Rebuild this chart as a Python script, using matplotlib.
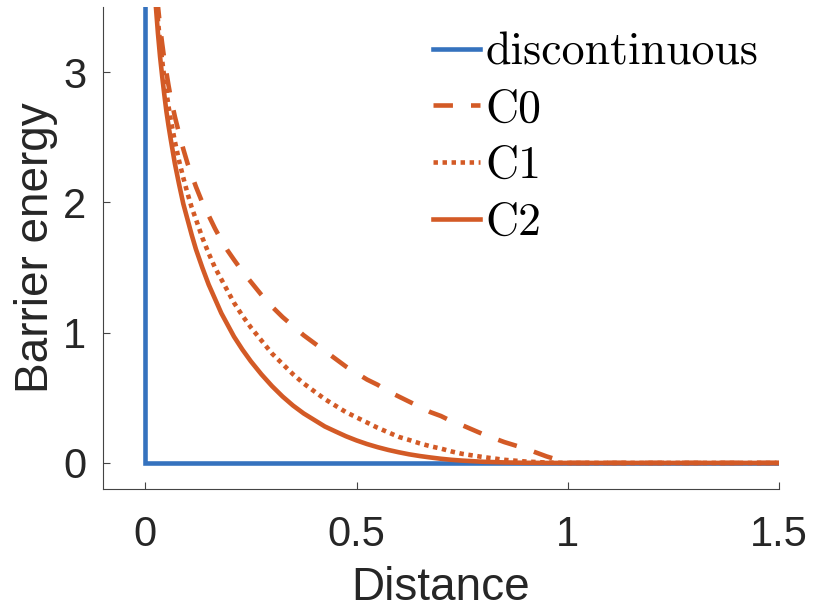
import matplotlib
matplotlib.use("Agg")
import matplotlib.pyplot as plt

# ---- data ----
distance = [0.02, 0.025, 0.03, 0.035, 0.04, 0.045, 0.05, 0.055, 0.06, 0.07,
            0.08, 0.09, 0.10, 0.11, 0.12, 0.135, 0.15, 0.165, 0.18, 0.195,
            0.21, 0.23, 0.25, 0.275, 0.30, 0.325, 0.35, 0.375, 0.40, 0.425,
            0.45, 0.475, 0.50, 0.525, 0.55, 0.575, 0.60, 0.625, 0.65, 0.675,
            0.70, 0.725, 0.75, 0.80, 0.85, 0.90, 0.95, 1.00, 1.50]
c0 = [3.91, 3.69, 3.51, 3.35, 3.22, 3.10, 3.00, 2.90, 2.81, 2.66,
      2.53, 2.41, 2.30, 2.21, 2.12, 2.00, 1.90, 1.80, 1.71, 1.63,
      1.56, 1.47, 1.39, 1.29, 1.20, 1.12, 1.05, 0.98, 0.92, 0.86,
      0.80, 0.74, 0.69, 0.64, 0.60, 0.55, 0.51, 0.47, 0.43, 0.39,
      0.36, 0.32, 0.29, 0.22, 0.16, 0.11, 0.05, 0.0, 0.0]
c1 = [3.83, 3.60, 3.40, 3.23, 3.09, 2.96, 2.85, 2.74, 2.64, 2.47,
      2.32, 2.19, 2.07, 1.96, 1.87, 1.73, 1.61, 1.50, 1.41, 1.32,
      1.23, 1.13, 1.04, 0.94, 0.84, 0.76, 0.68, 0.61, 0.55, 0.49,
      0.44, 0.39, 0.35, 0.31, 0.27, 0.235, 0.20, 0.176, 0.15, 0.128,
      0.11, 0.088, 0.07, 0.045, 0.024, 0.011, 0.003, 0.0, 0.0]
c2 = [3.76, 3.51, 3.30, 3.12, 2.97, 2.83, 2.70, 2.59, 2.49, 2.30,
      2.14, 1.99, 1.87, 1.75, 1.64, 1.50, 1.37, 1.26, 1.15, 1.06,
      0.97, 0.87, 0.78, 0.68, 0.59, 0.51, 0.44, 0.38, 0.33, 0.28,
      0.242, 0.205, 0.173, 0.145, 0.121, 0.10, 0.082, 0.066, 0.053, 0.042,
      0.032, 0.024, 0.018, 0.009, 0.004, 0.001, 0.0, 0.0, 0.0]
disc_x = [0.0, 0.0, 1.5]
disc_y = [4.0, 0.0, 0.0]

labels = ["discontinuous", "C0", "C1", "C2"]
xticks = [0, 0.5, 1, 1.5]
xticklabels = ["0", "0.5", "1", "1.5"]
yticks = [0, 1, 2, 3]
yticklabels = ["0", "1", "2", "3"]

# ---- style ----
plt.rcParams["lines.scale_dashes"] = False
blue = "#3572BE"
orange = "#D35A26"
axcol = "#262626"
lw = 3.3

fig = plt.figure(figsize=(8.17, 6.09), dpi=100)
ax = fig.add_axes([103 / 817, 1 - 489 / 609, 676 / 817, 482 / 609])

ax.plot(disc_x, disc_y, color=blue, lw=lw, solid_joinstyle="miter",
        label=labels[0], zorder=2)
ax.plot(distance, c0, color=orange, lw=lw, dashes=(14, 13),
        dash_capstyle="butt", label=labels[1], zorder=3)
ax.plot(distance, c1, color=orange, lw=lw, dashes=(3.2, 3.3),
        dash_capstyle="butt", label=labels[2], zorder=3)
ax.plot(distance, c2, color=orange, lw=lw, label=labels[3], zorder=3)

ax.set_xlim(-0.1, 1.5)
ax.set_ylim(-0.2, 3.5)

for s in ["top", "right"]:
    ax.spines[s].set_visible(False)
for s in ["left", "bottom"]:
    ax.spines[s].set_color("#444444")
    ax.spines[s].set_linewidth(0.8)

ax.set_xticks(xticks)
ax.set_xticklabels(xticklabels)
ax.set_yticks(yticks)
ax.set_yticklabels(yticklabels)
tickfont = "Liberation Sans"
ax.tick_params(axis="both", direction="in", length=5, width=0.8,
               color="#444444", labelcolor=axcol, labelsize=30)
ax.tick_params(axis="x", pad=19)
ax.tick_params(axis="y", pad=12)
for t in ax.get_xticklabels() + ax.get_yticklabels():
    t.set_fontfamily(tickfont)

ax.set_xlabel("Distance", fontsize=33, family=tickfont, color=axcol, labelpad=8)
ax.set_ylabel("Barrier energy", fontsize=33, family=tickfont, color=axcol, labelpad=4)

leg = ax.legend(loc="upper left", bbox_to_anchor=(433 / 817, 1 - 32 / 609),
                bbox_transform=fig.transFigure, frameon=False,
                prop={"family": "cmr10", "size": 33}, borderpad=0,
                borderaxespad=0, handlelength=1.03, handletextpad=0.12,
                labelspacing=0.33)

fig.savefig("out.png", dpi=100)
